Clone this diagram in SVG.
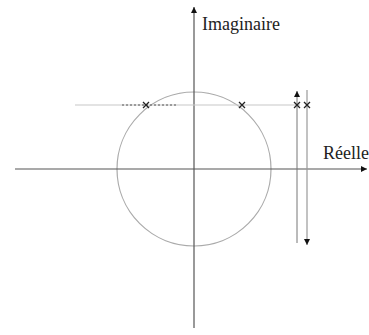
<svg xmlns="http://www.w3.org/2000/svg" width="369" height="335" viewBox="0 0 369 335">
<defs>
<marker id="ah" viewBox="0 0 10 10" refX="10" refY="5" markerWidth="6" markerHeight="6" orient="auto" markerUnits="userSpaceOnUse">
<path d="M0,0 L10,5 L0,10 Z" fill="#111"/>
</marker>
<style>
.ax{stroke:#555;stroke-width:1.2;fill:none}
.lt{stroke:#c8c8c8;stroke-width:1.2;fill:none}
.cx{stroke:#222;stroke-width:1.3}
.lbl{font-family:"Liberation Serif",serif;font-size:18px;fill:#222}
</style>
</defs>
<rect width="369" height="335" fill="#fff"/>
<g id="circle"><circle cx="194" cy="169" r="77" fill="none" stroke="#aaa" stroke-width="1.2"/></g>
<g id="connectors">
<line class="ax" x1="15" y1="169" x2="367" y2="169" marker-end="url(#ah)"/>
<line class="ax" x1="194" y1="328" x2="194" y2="7" marker-end="url(#ah)"/>
<line class="lt" x1="75" y1="105" x2="300" y2="105"/>
<line x1="122" y1="105" x2="178" y2="105" stroke="#555" stroke-width="1" stroke-dasharray="2,2"/>
<line x1="297" y1="243" x2="297" y2="91" stroke="#777" stroke-width="1" marker-end="url(#ah)"/>
<line x1="307" y1="90" x2="307" y2="245" stroke="#999" stroke-width="1.2" marker-end="url(#ah)"/>
</g>
<g id="poles">
<path class="cx" d="M143,102 L149,108 M149,102 L143,108"/>
<path class="cx" d="M239,102 L245,108 M245,102 L239,108"/>
<path class="cx" d="M294,102 L300,108 M300,102 L294,108"/>
<path class="cx" d="M304,102 L310,108 M310,102 L304,108"/>
</g>
<g id="labels">
<text class="lbl" x="202" y="30">Imaginaire</text>
<text class="lbl" x="323" y="159">Réelle</text>
</g>
</svg>
